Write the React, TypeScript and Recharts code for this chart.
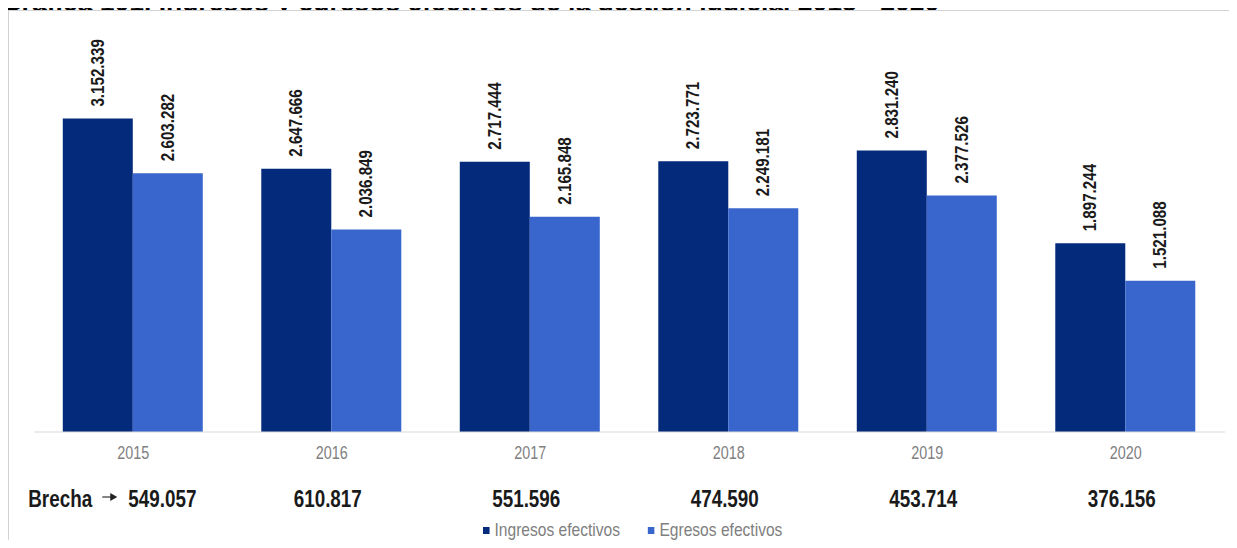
import React from 'react';
import { BarChart, Bar, XAxis, YAxis, Legend, LabelList } from 'recharts';

const years = ['2015', '2016', '2017', '2018', '2019', '2020'];
const ingresos = [3152339, 2647666, 2717444, 2723771, 2831240, 1897244];
const egresos = [2603282, 2036849, 2165848, 2249181, 2377526, 1521088];
const brecha = [549057, 610817, 551596, 474590, 453714, 376156];
const seriesNames = ['Ingresos efectivos', 'Egresos efectivos'];

const FONT = "'Liberation Sans', Arial, sans-serif";
const SQUEEZE = 0.82; // no narrow font installed, so squeeze Arial-like glyphs
const DARK = '#032a7b';
const LIGHT = '#3866cd';

const data = years.map((year, i) => ({
  year,
  ingresos: ingresos[i],
  egresos: egresos[i],
}));

const fmt = (v: number) => String(v).replace(/\B(?=(\d{3})+(?!\d))/g, '.');

const NarrowText = ({ x, y, angle = 0, children, ...rest }: any) => (
  <text
    x={0}
    y={0}
    transform={`translate(${x} ${y}) rotate(${angle}) scale(${SQUEEZE} 1)`}
    fontFamily={FONT}
    {...rest}
  >
    {children}
  </text>
);

const VerticalLabel = (props: any) => {
  const { x, y, width, value } = props;
  const cx = Number(x) + Number(width) / 2;
  const cy = Number(y) - 12;
  return (
    <NarrowText
      x={cx}
      y={cy}
      angle={-90}
      textAnchor="start"
      dominantBaseline="central"
      fontWeight="bold"
      fontSize={18.5}
      fill="#1a1a1a"
    >
      {fmt(value)}
    </NarrowText>
  );
};

const YearTick = (props: any) => {
  const { x, y, payload } = props;
  const i = payload.index;
  const by = y + 75;
  return (
    <g>
      <NarrowText x={x} y={y + 27} textAnchor="middle" fill="#808080" fontSize={17.5}>
        {payload.value}
      </NarrowText>
      {i === 0 ? (
        <g>
          <NarrowText x={x - 105} y={by} textAnchor="start" fill="#1a1a1a" fontWeight="bold" fontSize={23}>
            Brecha
          </NarrowText>
          <line x1={x - 31} y1={by - 10} x2={x - 22} y2={by - 10} stroke="#333" strokeWidth={1.2} />
          <polygon points={`${x - 23},${by - 14} ${x - 16},${by - 10} ${x - 23},${by - 6}`} fill="#222" />
          <NarrowText x={x - 5} y={by} textAnchor="start" fill="#1a1a1a" fontWeight="bold" fontSize={23}>
            {fmt(brecha[i])}
          </NarrowText>
        </g>
      ) : (
        <NarrowText x={x - 4} y={by} textAnchor="middle" fill="#1a1a1a" fontWeight="bold" fontSize={23}>
          {fmt(brecha[i])}
        </NarrowText>
      )}
    </g>
  );
};

const renderLegend = () => (
  <div
    style={{
      display: 'flex',
      gap: 34,
      fontFamily: FONT,
      fontSize: 19,
      lineHeight: '20px',
      color: '#808080',
      whiteSpace: 'nowrap',
      transform: `scaleX(${SQUEEZE})`,
      transformOrigin: 'left center',
    }}
  >
    {seriesNames.map((name, i) => (
      <span key={name} style={{ display: 'flex', alignItems: 'center' }}>
        <span
          style={{ display: 'inline-block', width: 8, height: 7, background: i === 0 ? DARK : LIGHT, marginRight: 6 }}
        />
        {name}
      </span>
    ))}
  </div>
);

export default function App() {
  return (
    <div style={{ position: 'relative', width: 1237, height: 548, margin: -8, overflow: 'hidden', background: '#fff' }}>
      <div
        style={{
          position: 'absolute',
          left: 1,
          top: -9,
          fontFamily: FONT,
          fontWeight: 'bold',
          fontSize: 26.5,
          lineHeight: '23px',
          color: '#000',
          whiteSpace: 'nowrap',
        }}
      >
        Gráfica 101. Ingresos y egresos efectivos de la gestión judicial 2015 - 2020
      </div>
      <div
        style={{
          position: 'absolute',
          left: 8,
          top: 10,
          width: 1224,
          height: 532,
          border: '1px solid #d2d2d2',
          background: '#fff',
        }}
      />
      <div style={{ position: 'absolute', left: 0, top: 0 }}>
        <BarChart
          width={1237}
          height={548}
          data={data}
          margin={{ top: 84, right: 12, left: 34, bottom: 26 }}
          barCategoryGap="14.5%"
          barGap={0}
        >
          <XAxis
            dataKey="year"
            height={90}
            axisLine={{ stroke: '#d9d9d9' }}
            tickLine={false}
            tickSize={0}
            tickMargin={0}
            interval={0}
            tick={<YearTick />}
          />
          <YAxis hide domain={[0, 3500000]} />
          <Legend
            verticalAlign="middle"
            align="center"
            layout="horizontal"
            content={renderLegend}
            wrapperStyle={{ top: 520, left: 483, width: 'auto', height: 20 }}
          />
          <Bar dataKey="ingresos" name={seriesNames[0]} fill={DARK} isAnimationActive={false}>
            <LabelList dataKey="ingresos" content={<VerticalLabel />} />
          </Bar>
          <Bar dataKey="egresos" name={seriesNames[1]} fill={LIGHT} isAnimationActive={false}>
            <LabelList dataKey="egresos" content={<VerticalLabel />} />
          </Bar>
        </BarChart>
      </div>
    </div>
  );
}
